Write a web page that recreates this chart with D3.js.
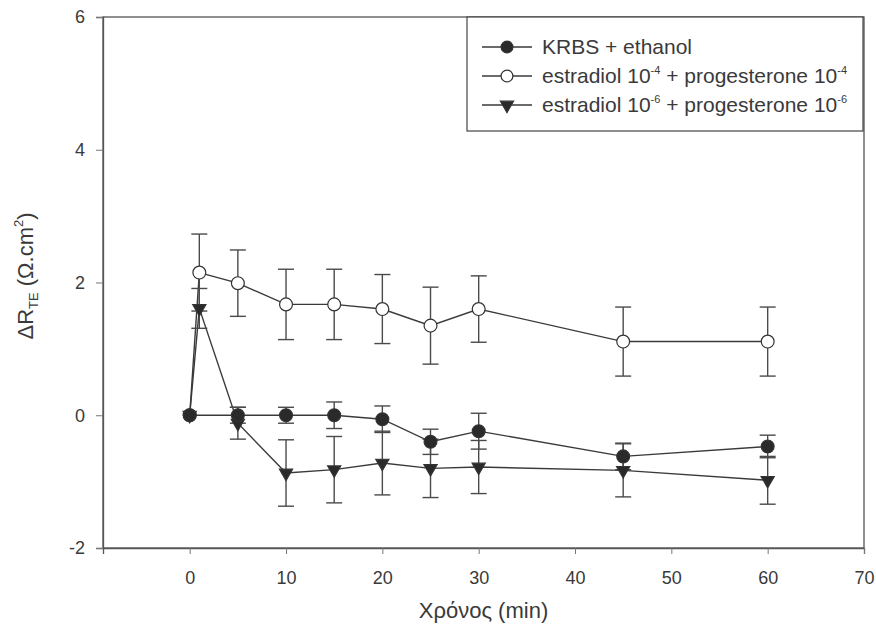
<!DOCTYPE html>
<html>
<head>
<meta charset="utf-8">
<script src="https://cdn.jsdelivr.net/npm/d3@7"></script>
<style>
body { margin: 0; background: #fff; }
svg { font-family: "Liberation Sans", Arial, sans-serif; }
</style>
</head>
<body>
<svg id="plot"></svg>
<script>
var TIMES_KRBS = [0, 5, 10, 15, 20, 25, 30, 45, 60];
var KRBS = [0, 0.0, 0.0, 0.0, -0.06, -0.4, -0.24, -0.62, -0.47];
var KRBS_ERR = [0, 0.12, 0.12, 0.2, 0.2, 0.19, 0.27, 0.2, 0.17];

var TIMES = [0, 1, 5, 10, 15, 20, 25, 30, 45, 60];
var E4 = [0, 2.15, 1.99, 1.67, 1.67, 1.6, 1.35, 1.6, 1.11, 1.11];
var E4_ERR = [0, 0.58, 0.5, 0.53, 0.53, 0.52, 0.58, 0.5, 0.52, 0.52];
var E6 = [0, 1.61, -0.12, -0.87, -0.82, -0.72, -0.8, -0.78, -0.83, -0.98];
var E6_ERR = [0, 0.3, 0.24, 0.5, 0.5, 0.48, 0.44, 0.4, 0.4, 0.36];

var XTICKS = [0, 10, 20, 30, 40, 50, 60, 70];
var YTICKS = [-2, 0, 2, 4, 6];

var INK = "#3a3a3a";
var width = 876, height = 639;
var margin = {top: 17, right: 12, bottom: 91, left: 103};
var w = width - margin.left - margin.right;
var h = height - margin.top - margin.bottom;

var svg = d3.select("#plot").attr("width", width).attr("height", height);
var g = svg.append("g").attr("transform", "translate(" + margin.left + "," + margin.top + ")");

var x = d3.scaleLinear().domain([-9, 70]).range([0, w]);
var y = d3.scaleLinear().domain([-2, 6]).range([h, 0]);

var series = [
    {name: "KRBS", t: TIMES_KRBS, v: KRBS, e: KRBS_ERR, shape: "circle", fill: "#2a2a2a"},
    {name: "E4", t: TIMES, v: E4, e: E4_ERR, shape: "circle", fill: "#fff"},
    {name: "E6", t: TIMES, v: E6, e: E6_ERR, shape: "triangle", fill: "#2a2a2a"}
];

// frame
g.append("rect").attr("width", w).attr("height", h)
    .attr("fill", "none").attr("stroke", "#555").attr("stroke-width", 1.3);

var plain = function(d) { return String(d); };
var xa = g.append("g").attr("transform", "translate(0," + h + ")")
    .call(d3.axisBottom(x).tickValues(XTICKS).tickFormat(plain).tickSize(6).tickPadding(17));
var ya = g.append("g")
    .call(d3.axisLeft(y).tickValues(YTICKS).tickFormat(plain).tickSize(7).tickPadding(11));
[xa, ya].forEach(function(a) {
    a.select(".domain").attr("stroke", "#555").attr("stroke-width", 1.3);
    a.selectAll(".tick line").attr("stroke", "#777");
    a.selectAll("text").attr("font-size", 18).attr("fill", INK)
        .attr("font-family", "Liberation Sans, Arial, sans-serif");
});

var line = d3.line()
    .x(function(d) { return x(d[0]); })
    .y(function(d) { return y(d[1]); });

var symbol = function(shape, size) {
    return d3.symbol().type(shape === "triangle" ? d3.symbolTriangle : d3.symbolCircle).size(size)();
};

var plot = g.append("g");
series.forEach(function(s) {
    var pts = s.t.map(function(t, i) { return [t, s.v[i], s.e[i]]; });
    plot.append("path").datum(pts)
        .attr("fill", "none").attr("stroke", INK).attr("stroke-width", 1.4)
        .attr("d", line);
    var eb = plot.append("g").selectAll("g").data(pts.filter(function(d) { return d[2] > 0; }))
        .enter().append("g").attr("stroke", "#4a4a4a").attr("stroke-width", 1.4);
    eb.append("line")
        .attr("x1", function(d) { return x(d[0]); }).attr("x2", function(d) { return x(d[0]); })
        .attr("y1", function(d) { return y(d[1] - d[2]); }).attr("y2", function(d) { return y(d[1] + d[2]); });
    [-1, 1].forEach(function(sign) {
        eb.append("line")
            .attr("x1", function(d) { return x(d[0]) - 8; }).attr("x2", function(d) { return x(d[0]) + 8; })
            .attr("y1", function(d) { return y(d[1] + sign * d[2]); })
            .attr("y2", function(d) { return y(d[1] + sign * d[2]); });
    });
    s.pts = pts;
});
// markers: open circles first so the filled ones sit on top at t = 0
[series[1], series[2], series[0]].forEach(function(s) {
    plot.append("g").selectAll("path").data(s.pts).enter().append("path")
        .attr("transform", function(d) {
            var r = s.shape === "triangle" ? 180 : 0;
            return "translate(" + x(d[0]) + "," + y(d[1]) + ") rotate(" + r + ")";
        })
        .attr("d", symbol(s.shape, s.shape === "triangle" ? 75 : 130))
        .attr("fill", s.fill).attr("stroke", "#333").attr("stroke-width", 1.2);
});

// legend
var legend = svg.append("g").attr("transform", "translate(467,17)");
legend.append("rect").attr("width", 396).attr("height", 114)
    .attr("fill", "#fff").attr("stroke", "#444").attr("stroke-width", 1.2);
var LEGEND = [
    {s: series[0], parts: [["KRBS + ethanol", 0]]},
    {s: series[1], parts: [["estradiol 10", 0], ["-4", 1], [" + progesterone 10", 0], ["-4", 1]]},
    {s: series[2], parts: [["estradiol 10", 0], ["-6", 1], [" + progesterone 10", 0], ["-6", 1]]}
];
LEGEND.forEach(function(item, i) {
    var row = legend.append("g").attr("transform", "translate(0," + (30 + i * 29) + ")");
    row.append("line").attr("x1", 15).attr("x2", 65).attr("y1", 0).attr("y2", 0)
        .attr("stroke", INK).attr("stroke-width", 1.4);
    row.append("path").attr("transform", "translate(40,0)" + (item.s.shape === "triangle" ? " rotate(180)" : ""))
        .attr("d", symbol(item.s.shape, item.s.shape === "triangle" ? 75 : 110))
        .attr("fill", item.s.fill).attr("stroke", "#333").attr("stroke-width", 1.2);
    var t = row.append("text").attr("x", 75).attr("y", 7).attr("font-size", 21).attr("fill", INK);
    item.parts.forEach(function(p) {
        var ts = t.append("tspan").text(p[0]);
        if (p[1]) {
            ts.attr("font-size", 11).attr("dy", -9);
        } else if (t.selectAll("tspan").size() > 1) {
            ts.attr("dy", 9);
        }
    });
});

// axis titles
svg.append("text").attr("x", margin.left + w / 2).attr("y", 618)
    .attr("text-anchor", "middle").attr("font-size", 22).attr("fill", INK)
    .text("Χρόνος (min)");

var yl = svg.append("text").attr("transform", "translate(33,276) rotate(-90)")
    .attr("text-anchor", "middle").attr("font-size", 22).attr("fill", INK);
yl.append("tspan").text("ΔR");
yl.append("tspan").text("TE").attr("font-size", 13).attr("dy", 5);
yl.append("tspan").text(" (Ω.cm").attr("dy", -5);
yl.append("tspan").text("2").attr("font-size", 13).attr("dy", -10);
yl.append("tspan").text(")").attr("dy", 10);
</script>
</body>
</html>
